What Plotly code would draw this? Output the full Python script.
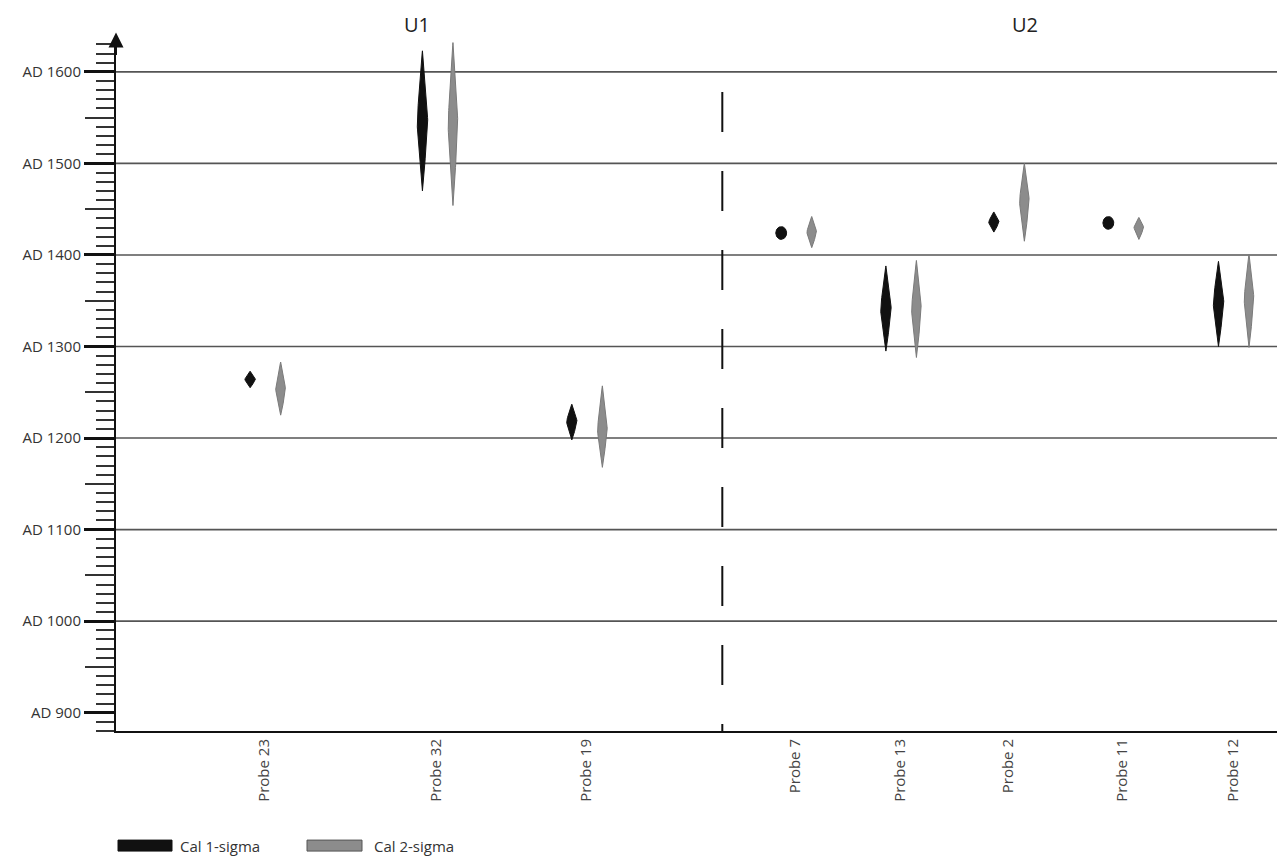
import numpy as np
import plotly.graph_objects as go

# ---- data ----
probes = ["Probe 23", "Probe 32", "Probe 19", "Probe 7", "Probe 13", "Probe 2", "Probe 11", "Probe 12"]
probe_pos = [1.36, 2.94, 4.31, 6.23, 7.19, 8.18, 9.23, 10.24]
sig1_low = [1255, 1470, 1198, 1417, 1295, 1425, 1428, 1300]
sig1_mid = [1264, 1545, 1218, 1424, 1341, 1436, 1435, 1348]
sig1_high = [1273, 1623, 1237, 1431, 1388, 1447, 1442, 1393]
sig2_low = [1225, 1454, 1168, 1408, 1288, 1415, 1417, 1299]
sig2_mid = [1253, 1543, 1209, 1425, 1341, 1459, 1430, 1352]
sig2_high = [1283, 1632, 1257, 1442, 1394, 1500, 1441, 1401]
group_labels = ["U1", "U2"]
group_label_pos = [2.76, 8.34]
divider_pos = 5.56
grid_years = [1000, 1100, 1200, 1300, 1400, 1500, 1600]
y_ticks = [900, 1000, 1100, 1200, 1300, 1400, 1500, 1600]
y_ticktext = ["AD %d" % v for v in y_ticks]
y_range = [880, 1637]

FONT = "'Open Sans', Lato, sans-serif"
BLACK = "#111111"
GRAY = "#8c8c8c"

# page body has an 8px margin; compensate so the plot lands where the reference has it
W, H = 1277, 851
SCALE = 0.9148  # px per year
MB = 128
PH = (y_range[1] - y_range[0]) * SCALE
MT = H - MB - PH
ML = 108
PW = W - ML


def spindle(xc, lo, mid, hi, hw):
    t = np.linspace(-1, 1, 61)
    span = hi - lo
    if span < 16:
        f = np.sqrt(np.clip(1 - t ** 2, 0, 1))
    else:
        f = (1 - np.abs(t)) ** 0.9
    y = np.where(t < 0, mid + t * (mid - lo), mid + t * (hi - mid))
    xs = np.concatenate([xc + hw * f, (xc - hw * f)[::-1]])
    ys = np.concatenate([y, y[::-1]])
    return xs, ys


fig = go.Figure()

for i, name in enumerate(probes):
    xb, yb = spindle(probe_pos[i] - 0.13, sig1_low[i], sig1_mid[i], sig1_high[i], 0.05)
    fig.add_trace(go.Scatter(x=xb, y=yb, mode="lines", fill="toself", fillcolor=BLACK,
                             line=dict(color=BLACK, width=1), showlegend=False, hoverinfo="skip"))
    xg, yg = spindle(probe_pos[i] + 0.15, sig2_low[i], sig2_mid[i], sig2_high[i], 0.046)
    fig.add_trace(go.Scatter(x=xg, y=yg, mode="lines", fill="toself", fillcolor=GRAY,
                             line=dict(color="#7a7a7a", width=1), showlegend=False, hoverinfo="skip"))

# dummy trace for second y axis (50-year ticks)
fig.add_trace(go.Scatter(x=[None], y=[None], yaxis="y2", showlegend=False))

shapes = []
for g in grid_years:
    shapes.append(dict(type="line", xref="paper", x0=0, x1=1, yref="y", y0=g, y1=g,
                       line=dict(color="#555555", width=1.6), layer="below"))
shapes.append(dict(type="line", xref="x", x0=divider_pos, x1=divider_pos, yref="y", y0=1578, y1=880,
                   line=dict(color="#111111", width=2, dash="40px,39px")))


def py(px):
    # reference pixel row -> paper y
    return (MT + 8 + PH - px) / PH


def pxx(px):
    return (px - 116) / PW


leg_y0, leg_y1 = py(851), py(840)
shapes.append(dict(type="rect", xref="paper", yref="paper", x0=pxx(118), x1=pxx(172),
                   y0=leg_y0, y1=leg_y1, fillcolor=BLACK, line=dict(color=BLACK, width=1)))
shapes.append(dict(type="rect", xref="paper", yref="paper", x0=pxx(307), x1=pxx(362),
                   y0=leg_y0, y1=leg_y1, fillcolor=GRAY, line=dict(color="#555555", width=1)))

annotations = [
    dict(xref="paper", yref="paper", x=pxx(178), y=(leg_y0 + leg_y1) / 2, text="Cal 1-sigma",
         showarrow=False, xanchor="left", yanchor="middle", font=dict(family=FONT, size=15, color="#333")),
    dict(xref="paper", yref="paper", x=pxx(372), y=(leg_y0 + leg_y1) / 2, text="Cal 2-sigma",
         showarrow=False, xanchor="left", yanchor="middle", font=dict(family=FONT, size=15, color="#333")),
    dict(xref="paper", yref="paper", x=0, y=py(33), ax=0, ay=24, axref="pixel", ayref="pixel",
         showarrow=True, arrowhead=2, arrowsize=1.5, arrowwidth=2, arrowcolor="#111", text=""),
]
for lab, pos in zip(group_labels, group_label_pos):
    annotations.append(dict(xref="x", yref="paper", x=pos, y=py(25), text=lab, showarrow=False,
                            xanchor="center", yanchor="middle", font=dict(family=FONT, size=20, color="#222")))

fig.update_layout(
    width=W, height=H,
    margin=dict(l=ML, r=0, t=MT, b=MB),
    paper_bgcolor="white", plot_bgcolor="white",
    font=dict(family=FONT, size=15, color="#333"),
    showlegend=False,
    shapes=shapes,
    annotations=annotations,
    xaxis=dict(range=[0, 10.72], tickmode="array", tickvals=probe_pos, ticktext=probes,
               tickangle=-90, showgrid=False, zeroline=False, showline=True, linecolor="#111",
               linewidth=2, ticks="", automargin=False,
               tickfont=dict(family=FONT, size=15, color="#444")),
    yaxis=dict(range=y_range, tickmode="array", tickvals=y_ticks, ticktext=y_ticktext,
               showgrid=False, zeroline=False, showline=True, linecolor="#111", linewidth=2,
               ticks="outside", ticklen=30, tickwidth=2.5, tickcolor="#111", automargin=False,
               tickfont=dict(family=FONT, size=15, color="#333"),
               minor=dict(dtick=10, tick0=0, ticks="outside", ticklen=18, tickwidth=1.5, tickcolor="#333")),
    yaxis2=dict(range=y_range, overlaying="y", side="left", tickmode="linear", tick0=50, dtick=100,
                ticks="outside", ticklen=30, tickwidth=1.5, tickcolor="#333", showticklabels=False,
                showgrid=False, zeroline=False, showline=False, automargin=False),
)

fig.write_html("out.html")
